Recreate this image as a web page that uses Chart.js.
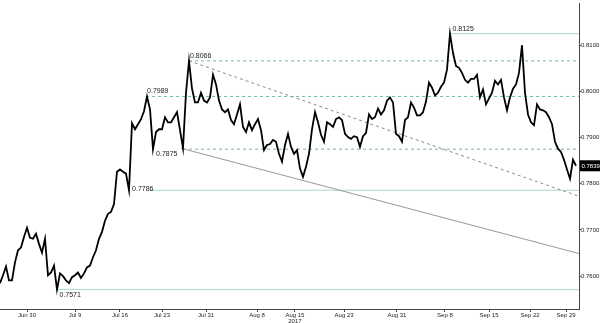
<!DOCTYPE html>
<html>
<head>
<meta charset="utf-8">
<script src="https://cdn.jsdelivr.net/npm/chart.js@4"></script>
<style>
  html, body { margin: 0; padding: 0; background: #fff; }
  #wrap { width: 600px; height: 323px; }
</style>
</head>
<body>
<div id="wrap"><canvas id="c"></canvas></div>
<script>
// AUD/USD style price path, one sample per bar slot
const prices = [
  0.7585, 0.7602, 0.7621, 0.7591, 0.7591, 0.7630, 0.7656, 0.7662, 0.7685, 0.7705,
  0.7683, 0.7681, 0.7692, 0.7670, 0.7651, 0.7681, 0.7602, 0.7608, 0.7623, 0.7571,
  0.7606, 0.7600, 0.7591, 0.7585, 0.7598, 0.7602, 0.7608, 0.7596, 0.7606, 0.7619,
  0.7623, 0.7641, 0.7656, 0.7681, 0.7696, 0.7720, 0.7735, 0.7739, 0.7756, 0.7826,
  0.7831, 0.7826, 0.7822, 0.7786, 0.7931, 0.7918, 0.7929, 0.7940, 0.7957, 0.7989,
  0.7961, 0.7875, 0.7912, 0.7918, 0.7918, 0.7944, 0.7933, 0.7933, 0.7944, 0.7955,
  0.7916, 0.7877, 0.7997, 0.8066, 0.8006, 0.7976, 0.7976, 0.7997, 0.7980, 0.7976,
  0.7987, 0.8036, 0.8015, 0.7980, 0.7961, 0.7955, 0.7961, 0.7938, 0.7929, 0.7950,
  0.7972, 0.7923, 0.7912, 0.7933, 0.7916, 0.7929, 0.7940, 0.7916, 0.7873, 0.7884,
  0.7886, 0.7895, 0.7891, 0.7865, 0.7848, 0.7884, 0.7908, 0.7880, 0.7865, 0.7873,
  0.7833, 0.7815, 0.7837, 0.7865, 0.7918, 0.7955, 0.7933, 0.7906, 0.7891, 0.7933,
  0.7929, 0.7923, 0.7940, 0.7944, 0.7938, 0.7908, 0.7901, 0.7897, 0.7903, 0.7901,
  0.7880, 0.7903, 0.7910, 0.7950, 0.7940, 0.7944, 0.7963, 0.7950, 0.7959, 0.7980,
  0.7987, 0.7976, 0.7908, 0.7903, 0.7891, 0.7938, 0.7944, 0.7976, 0.7965, 0.7948,
  0.7948, 0.7955, 0.7978, 0.8019, 0.8008, 0.7991, 0.7997, 0.8010, 0.8019, 0.8047,
  0.8125, 0.8083, 0.8055, 0.8051, 0.8040, 0.8025, 0.8019, 0.8027, 0.8027, 0.8036,
  0.7987, 0.8004, 0.7972, 0.7985, 0.7997, 0.8023, 0.8015, 0.8025, 0.7987, 0.7959,
  0.7987, 0.8006, 0.8015, 0.8040, 0.8100, 0.7997, 0.7950, 0.7933, 0.7927, 0.7972,
  0.7961, 0.7959, 0.7955, 0.7944, 0.7929, 0.7891, 0.7876, 0.7869, 0.7852, 0.7831,
  0.7811, 0.7852, 0.7839
];

// date ticks, placed on the bar index axis
const tickPos = [9, 25, 40, 54, 68.7, 85.7, 98.3, 114.7, 132.3, 148.3, 163, 176.7, 188.7];
const tickText = ["Jun 30", "Jul 9", "Jul 16", "Jul 23", "Jul 31", "Aug 8", ["Aug 15", "2017"],
  "Aug 23", "Aug 31", "Sep 8", "Sep 15", "Sep 22", "Sep 29"];
const yTicks = [0.76, 0.77, 0.78, 0.79, 0.80, 0.81];

// horizontal support / resistance levels
const levelVals = [0.8125, 0.8066, 0.7989, 0.7875, 0.7786, 0.7571];
const levelFrom = [150, 63, 48.7, 61, 50, 19];
const levelDashed = [false, true, true, true, false, false];
const labelAt = [150.5, 63, 48.7, 51.7, 43.7, 19.5];
const labelSide = ["above", "above", "above", "below", "mid", "below"];

// trend lines
const resistX = [63, 193], resistY = [0.8066, 0.7773];
const supportX = [60.3, 193], supportY = [0.7877, 0.7649];

const lastPrice = prices[prices.length - 1];
const X_END = 193;
const FONT = "'Liberation Sans', Arial, sans-serif";

const datasets = [
  {
    data: prices.map((p, i) => ({ x: i, y: p })),
    borderColor: "#000",
    borderWidth: 1.8,
    pointRadius: 0,
    tension: 0,
  },
  {
    data: resistX.map((x, i) => ({ x: x, y: resistY[i] })),
    borderColor: "#8a8a8a",
    borderWidth: 1,
    borderDash: [3, 3],
    pointRadius: 0,
  },
  {
    data: supportX.map((x, i) => ({ x: x, y: supportY[i] })),
    borderColor: "#999",
    borderWidth: 1,
    pointRadius: 0,
  },
];
levelVals.forEach((v, i) => {
  datasets.push({
    data: [{ x: levelFrom[i], y: v }, { x: X_END, y: v }],
    borderColor: levelDashed[i] ? "#6fb8ad" : "#a6d9d1",
    borderWidth: 1,
    borderDash: levelDashed[i] ? [3, 3] : [],
    pointRadius: 0,
  });
});

const labelPlugin = {
  id: "levelLabels",
  afterDatasetsDraw(chart) {
    const ctx = chart.ctx;
    const xs = chart.scales.x, ys = chart.scales.y;
    ctx.save();
    ctx.font = "7px " + FONT;
    ctx.fillStyle = "#222";
    ctx.textAlign = "left";
    ctx.textBaseline = "middle";
    levelVals.forEach((v, i) => {
      const px = xs.getPixelForValue(labelAt[i]);
      let py = ys.getPixelForValue(v);
      if (labelSide[i] === "above") py -= 5;
      else if (labelSide[i] === "below") py += 5;
      else py -= 1;
      ctx.fillText(v.toFixed(4), px + 1, py);
    });
    // last price box on the axis
    const ly = ys.getPixelForValue(lastPrice);
    const bx = chart.chartArea.right + 1;
    ctx.fillStyle = "#000";
    ctx.fillRect(bx, ly - 5.5, 600 - bx, 11);
    ctx.fillStyle = "#fff";
    ctx.font = "6px " + FONT;
    ctx.fillText(lastPrice.toFixed(4), bx + 1.5, ly + 0.5);
    ctx.restore();
  },
};

new Chart(document.getElementById("c"), {
  type: "line",
  data: { datasets },
  plugins: [labelPlugin],
  options: {
    responsive: true,
    maintainAspectRatio: false,
    animation: false,
    layout: { padding: 0 },
    plugins: { legend: { display: false }, tooltip: { enabled: false } },
    scales: {
      x: {
        type: "linear",
        min: 0,
        max: X_END,
        afterFit: (s) => { s.height = 14; },
        afterBuildTicks: (s) => { s.ticks = tickPos.map((v) => ({ value: v })); },
        ticks: {
          autoSkip: false,
          maxRotation: 0,
          padding: 0,
          color: "#222",
          font: { size: 6, family: FONT, lineHeight: 1 },
          callback: (v, i) => tickText[i],
        },
        grid: { drawOnChartArea: false, tickLength: 3, color: "#444" },
        border: { color: "#444" },
      },
      y: {
        position: "right",
        min: 0.7529,
        max: 0.8190,
        afterFit: (s) => { s.width = 21; },
        afterBuildTicks: (s) => { s.ticks = yTicks.map((v) => ({ value: v })); },
        ticks: {
          padding: 0,
          color: "#222",
          font: { size: 6, family: FONT },
          callback: (v) => v.toFixed(4),
        },
        grid: { drawOnChartArea: false, tickLength: 2, color: "#444" },
        border: { color: "#444" },
      },
    },
  },
});
</script>
</body>
</html>
